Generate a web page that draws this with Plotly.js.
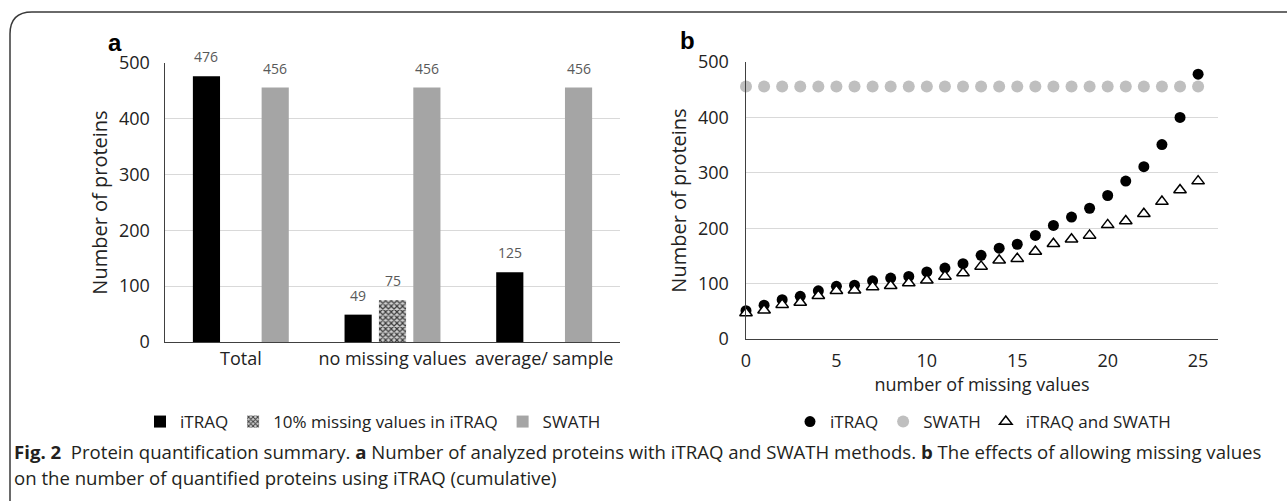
<!DOCTYPE html>
<html>
<head>
<meta charset="utf-8">
<script src="https://cdn.plot.ly/plotly-3.0.1.min.js"></script>
<style>html,body{margin:0;padding:0;background:#fff;}#chart{width:1287px;height:501px;}</style>
</head>
<body>
<div id="chart"></div>
<script>
// Panel a data
const categoriesA = ["Total", "no missing values", "average/ sample"];
const itraqA = [476, 49, 125];
const missing10A = [null, 75, null];
const swathA = [456, 456, 456];

// Panel b data
const missingCounts = [0,1,2,3,4,5,6,7,8,9,10,11,12,13,14,15,16,17,18,19,20,21,22,23,24,25];
const itraqB = [51,61,71,77,87,95,97,105,110,113,121,128,136,151,164,171,187,205,220,236,259,285,311,351,400,478];
const swathB = [456,456,456,456,456,456,456,456,456,456,456,456,456,456,456,456,456,456,456,456,456,456,456,456,456,456];
const bothB = [47,52,62,66,78,87,88,94,96,101,106,113,119,131,142,145,158,172,180,187,206,213,226,248,269,285];

const yTicks = [0,100,200,300,400,500];
const xTicksB = [0,5,10,15,20,25];

const W = 1287, H = 501;
const domA = [165/W, 620/W];
const BARGAP = 0.32, GROUPGAP = 0.21;

const tickFont = {family: "Open Sans", size: 18, color: "#222222"};
const labelFont = {family: "Open Sans", size: 14, color: "#595959"};
const legendFont = {family: "Open Sans", size: 17, color: "#222222"};

const traces = [
  {type:"bar", name:"iTRAQ", x:categoriesA, y:itraqA, xaxis:"x", yaxis:"y",
   marker:{color:"#000000"}, legend:"legend"},
  {type:"bar", name:"10% missing values in iTRAQ", x:categoriesA, y:missing10A, xaxis:"x", yaxis:"y",
   marker:{color:"#ffffff", pattern:{shape:"x", fgcolor:"#3a3a3a", bgcolor:"#d0d0d0", size:4, solidity:0.5}},
   legend:"legend"},
  {type:"bar", name:"SWATH", x:categoriesA, y:swathA, xaxis:"x", yaxis:"y",
   marker:{color:"#a5a5a5"}, legend:"legend"},
  {type:"scatter", mode:"markers", name:"SWATH", x:missingCounts, y:swathB, xaxis:"x2", yaxis:"y2",
   marker:{color:"#bfbfbf", size:12, symbol:"circle"}, cliponaxis:false, legend:"legend2", legendrank:2},
  {type:"scatter", mode:"markers", name:"iTRAQ", x:missingCounts, y:itraqB, xaxis:"x2", yaxis:"y2",
   marker:{color:"#000000", size:11, symbol:"circle"}, cliponaxis:false, legend:"legend2", legendrank:1},
  {type:"scatter", mode:"markers", name:"iTRAQ and SWATH", x:missingCounts, y:bothB, xaxis:"x2", yaxis:"y2",
   marker:{color:"#ffffff", size:11, symbol:"triangle-up", line:{color:"#000000", width:1.5}}, cliponaxis:false, legend:"legend2", legendrank:3}
];

// value labels above bars, placed through the axes (category, value) with a slot shift
const slotPx = (domA[1]-domA[0]) * W / categoriesA.length * (1 - BARGAP) / 3;
const seriesA = [itraqA, missing10A, swathA];
const valueLabels = [];
seriesA.forEach((vals, i) => {
  vals.forEach((v, j) => {
    if (v === null) return;
    valueLabels.push({xref:"x", yref:"y", x:categoriesA[j], y:v, text:String(v), showarrow:false,
      xanchor:"center", yanchor:"bottom", xshift:(i-1)*slotPx, yshift:8, font:labelFont});
  });
});

const capFont = {family: "Open Sans", size: 18.6, color: "#231f20"};

const layout = {
  width:W, height:H,
  margin:{l:0, r:0, t:0, b:0},
  paper_bgcolor:"#ffffff", plot_bgcolor:"#ffffff",
  barmode:"group", bargap:BARGAP, bargroupgap:GROUPGAP,
  showlegend:true,
  xaxis:{domain:domA, showgrid:false, showline:true, linecolor:"#404040", linewidth:1.5,
         ticks:"", tickfont:tickFont, ticklabelstandoff:0, fixedrange:true},
  yaxis:{domain:[0.3174, 0.8743], range:[0,500], tickvals:yTicks, showgrid:true, gridcolor:"#d9d9d9", gridwidth:1,
         showline:true, linecolor:"#404040", linewidth:1.5, zeroline:false, ticks:"", tickfont:tickFont,
         ticklabelstandoff:10,
         title:{text:"Number of proteins", font:{family:"Open Sans", size:20, color:"#222222"}, standoff:6}},
  xaxis2:{domain:[746/W, 1218/W], range:[0, 26.1], tickvals:xTicksB, showgrid:false, showline:true,
          linecolor:"#404040", linewidth:1.5, zeroline:false, ticks:"", tickfont:tickFont, anchor:"y2",
          ticklabelstandoff:5,
          title:{text:"number of missing values", font:{family:"Open Sans", size:18, color:"#222222"}, standoff:4}},
  yaxis2:{domain:[0.3234, 0.8762], range:[0,500], tickvals:yTicks, showgrid:true, gridcolor:"#d9d9d9", gridwidth:1,
          showline:true, linecolor:"#404040", linewidth:1.5, zeroline:false, ticks:"", tickfont:tickFont, anchor:"x2",
          ticklabelstandoff:12,
          title:{text:"Number of proteins", font:{family:"Open Sans", size:20, color:"#222222"}, standoff:6}},
  legend:{orientation:"h", x:373/W, xanchor:"center", y:1-422/H, yanchor:"middle",
          font:legendFont, traceorder:"normal", itemwidth:30},
  legend2:{orientation:"h", x:983/W, xanchor:"center", y:1-422/H, yanchor:"middle",
          font:legendFont, traceorder:"normal", itemwidth:30},
  annotations:[
    {xref:"paper", yref:"paper", x:115/W, y:1-42/H, text:"<b>a</b>", showarrow:false,
     font:{family:"Liberation Sans", size:24, color:"#000"}, xanchor:"center", yanchor:"middle"},
    {xref:"paper", yref:"paper", x:687/W, y:1-40/H, text:"<b>b</b>", showarrow:false,
     font:{family:"Liberation Sans", size:24, color:"#000"}, xanchor:"center", yanchor:"middle"},
    {xref:"paper", yref:"paper", x:12/W, y:1-451/H, xanchor:"left", yanchor:"middle", showarrow:false,
     text:"<b>Fig. 2</b>  Protein quantification summary. <b>a</b> Number of analyzed proteins with iTRAQ and SWATH methods. <b>b</b> The effects of allowing missing values",
     font:capFont},
    {xref:"paper", yref:"paper", x:12/W, y:1-477/H, xanchor:"left", yanchor:"middle", showarrow:false,
     text:"on the number of quantified proteins using iTRAQ (cumulative)", font:capFont}
  ].concat(valueLabels),
  shapes:[
    {type:"path", xref:"paper", yref:"paper", layer:"above",
     path:"M " + (10/W) + ",0 L " + (10/W) + "," + (1-34/H) + " Q " + (10/W) + "," + (1-12/H) + " " + (32/W) + "," + (1-12/H) + " L 1," + (1-12/H),
     line:{color:"#3a3a3a", width:1.5}}
  ]
};

Plotly.newPlot("chart", traces, layout, {displayModeBar:false, staticPlot:true});
</script>
</body>
</html>
